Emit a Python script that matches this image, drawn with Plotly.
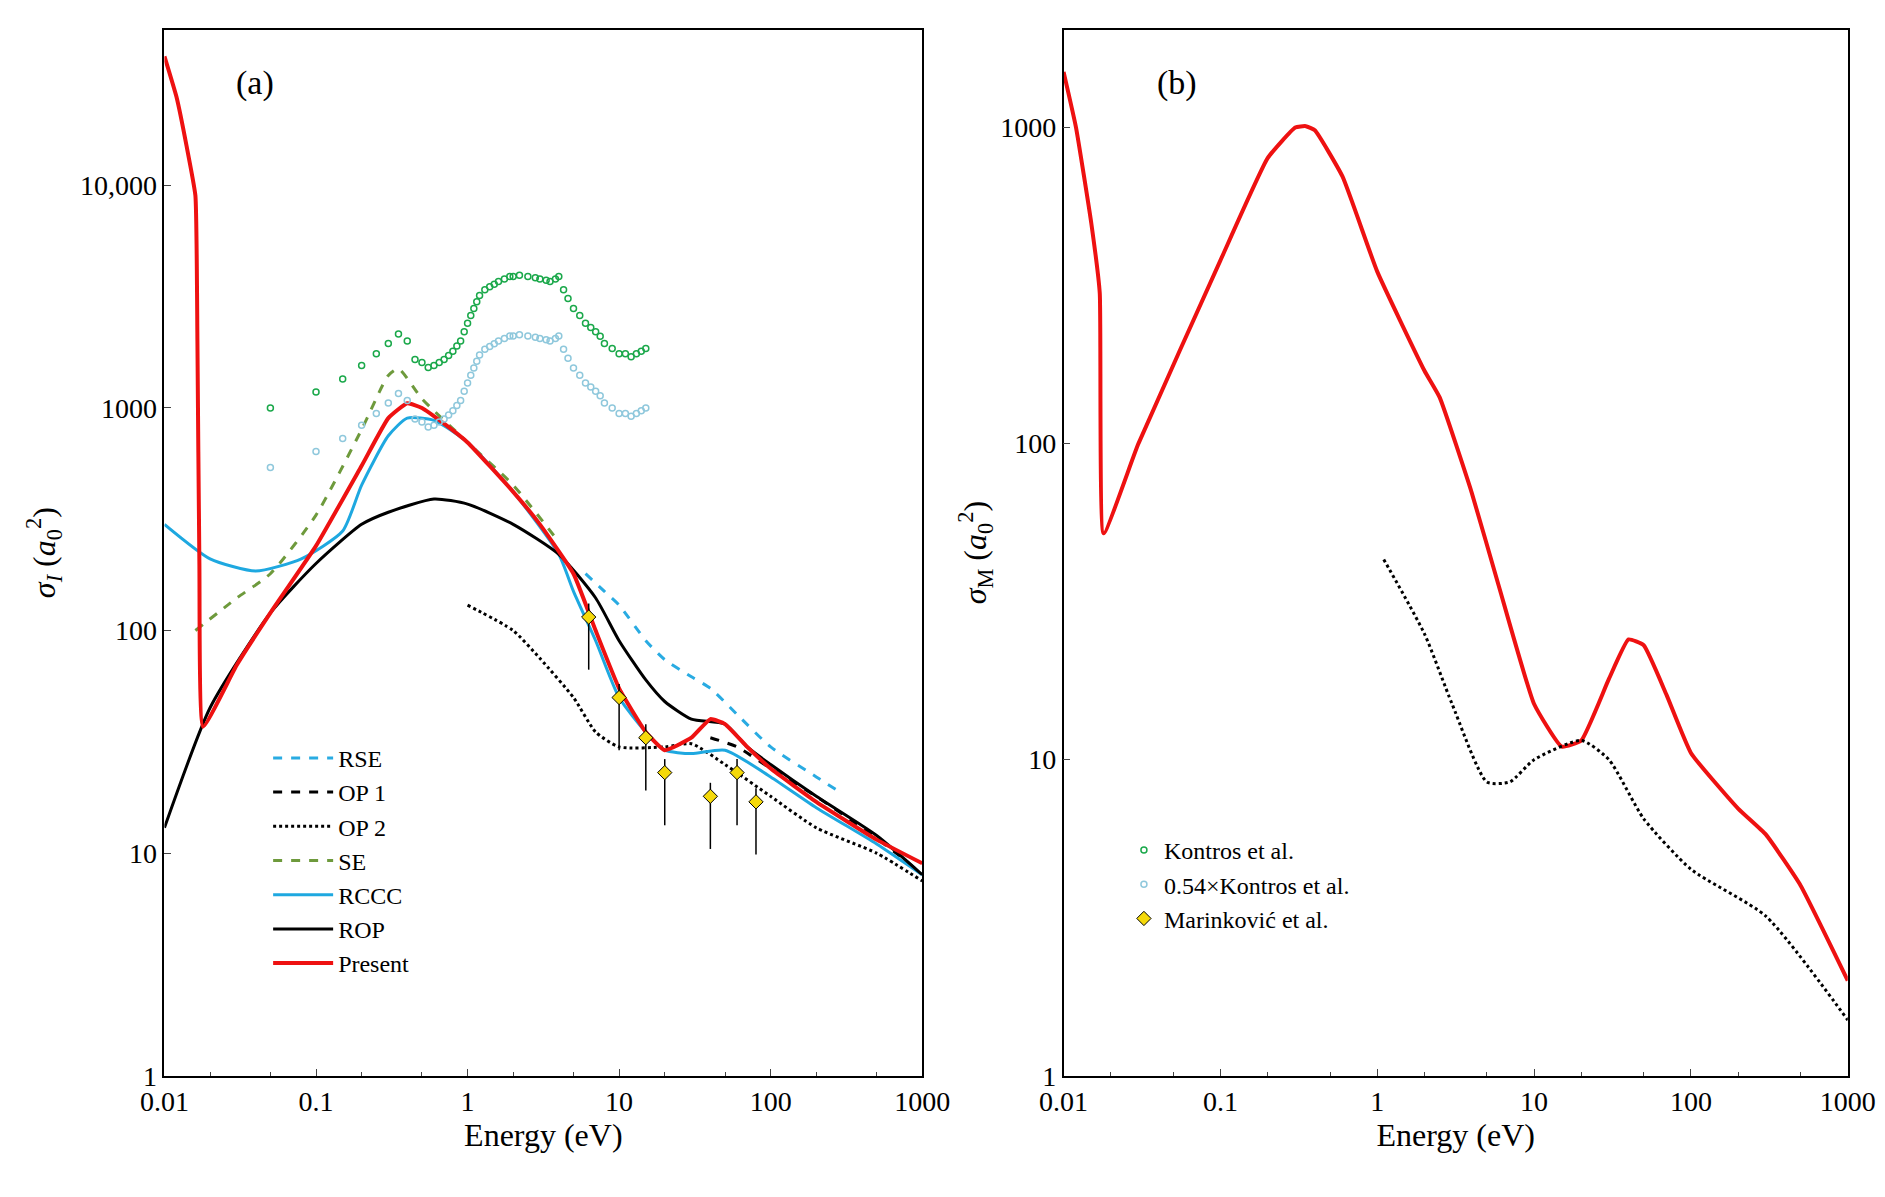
import plotly.graph_objects as go

# ---- panel (a) data ----
pres_x = [0.01,0.012,0.014,0.016,0.0165,0.017,0.018,0.03,0.05,0.1,0.2,0.3,0.4,0.5,0.7,1,2,3,5,7,10,15,20,30,40,50,70,100,200,500,1000]
pres_y = [38000,25000,15000,9000,2000,200,37,70,120,240,550,900,1050,1000,850,700,420,300,180,100,55,35,29,33,40,38,30,24,17,11.5,9]
rse_x = [6,8,10,15,20,30,40,60,100,200,280]
rse_y = [180,150,130,90,74,62,55,42,30,22,19]
op1_x = [40,60,100,200,400,700,900]
op1_y = [33,30,24,18,13,9.8,8.5]
op2_x = [1,2,3,5,7,10,20,30,50,100,200,500,1000]
op2_y = [130,100,75,50,35,30,30,31,25,18,13,10,7.5]
se_x = [0.016,0.03,0.05,0.1,0.2,0.3,0.35,0.5,1,2,4]
se_y = [100,140,180,330,800,1400,1500,1100,700,450,250]
rccc_x = [0.01,0.02,0.04,0.08,0.15,0.2,0.3,0.4,0.6,1,2,4,5,7,10,15,20,30,50,100,200,500,1000]
rccc_y = [300,210,185,210,280,450,750,900,880,700,420,220,150,90,50,35,29,28,29,22,16,11,8]
rop_x = [0.01,0.02,0.05,0.1,0.2,0.3,0.6,1,2,4,7,10,15,20,30,50,70,100,200,500,1000]
rop_y = [13,45,120,200,300,340,390,370,300,220,140,90,60,48,40,38,30,25,18,12,8]
kon_x = [0.05,0.1,0.15,0.2,0.25,0.3,0.35,0.4,0.45,0.5,0.55,0.6,0.65,0.7,0.75,0.8,0.85,0.9,0.95,1,1.05,1.1,1.15,1.2,1.3,1.4,1.5,1.6,1.75,1.9,2,2.2,2.5,2.8,3,3.3,3.5,3.8,4,4.3,4.6,5,5.5,6,6.5,7,7.5,8,9,10,11,12,13,14,15]
kon_y = [1000,1180,1350,1550,1750,1950,2150,2000,1650,1600,1520,1550,1600,1650,1720,1800,1900,2000,2200,2400,2600,2800,3000,3200,3400,3500,3600,3700,3800,3900,3900,3950,3900,3850,3800,3750,3700,3800,3900,3400,3100,2800,2600,2400,2300,2200,2100,1950,1850,1750,1750,1700,1750,1800,1850]
kon_scaled = [0.54 * v for v in kon_y]
mar_x = [6.3,10,15,20,40,60,80]
mar_y = [115,50,33,23,18,23,17]
mar_plus = [0.15*v for v in mar_y]
mar_minus = [0.42*v for v in mar_y]

# ---- panel (b) data ----
bp_x = [0.01,0.012,0.015,0.017,0.018,0.03,0.1,0.2,0.3,0.35,0.4,0.6,1,2,2.5,4,6,10,15,20,30,40,50,70,100,200,300,500,1000]
bp_y = [1500,1000,500,300,52,100,380,800,1000,1010,980,700,350,170,140,70,35,15,11,11.5,18,24,23,16,10.5,7,5.8,4,2]
bd_x = [1.1,2,3,5,7,10,20,30,50,100,300,1000]
bd_y = [43,25,15,8.5,8.5,10,11.5,10,6.5,4.5,3.2,1.5]

F = "Liberation Serif"
fig = go.Figure()
def line(x, y, name, color, dash="solid", w=3, xa="x", ya="y", leg="legend", show=True, sm=0.6):
    fig.add_trace(go.Scatter(x=x, y=y, mode="lines", name=name, xaxis=xa, yaxis=ya,
                             line=dict(color=color, dash=dash, width=w, shape="spline", smoothing=sm),
                             legend=leg, showlegend=show))

line(rse_x, rse_y, "RSE", "#29abe2", "dash")
line(op1_x, op1_y, "OP 1", "black", "dash")
line(op2_x, op2_y, "OP 2", "black", "dot")
line(se_x, se_y, "SE", "#6e9a3c", "dash")
line(rccc_x, rccc_y, "RCCC", "#1ea8e0")
line(rop_x, rop_y, "ROP", "black")
line(pres_x, pres_y, "Present", "#ee1111", w=4, sm=0.4)
fig.add_trace(go.Scatter(x=kon_x, y=kon_y, mode="markers", name="Kontros et al.", legend="legend2",
                         marker=dict(symbol="circle-open", color="#1aa84a", size=6, line=dict(width=1.5))))
fig.add_trace(go.Scatter(x=kon_x, y=kon_scaled, mode="markers", name="0.54×Kontros et al.", legend="legend2",
                         marker=dict(symbol="circle-open", color="#8fc8dc", size=6, line=dict(width=1.5))))
fig.add_trace(go.Scatter(x=mar_x, y=mar_y, mode="markers", name="Marinković et al.", legend="legend2",
                         marker=dict(symbol="diamond", color="#f5d90a", size=11, line=dict(color="black", width=1)),
                         error_y=dict(type="data", symmetric=False, array=mar_plus, arrayminus=mar_minus,
                                      color="black", thickness=1.5, width=0)))
line(bp_x, bp_y, "", "#ee1111", w=4, xa="x2", ya="y2", show=False, sm=0.4)
line(bd_x, bd_y, "", "black", "dot", xa="x2", ya="y2", show=False)

xt = [0.01,0.1,1,10,100,1000]; xl = ["0.01","0.1","1","10","100","1000"]
ax = dict(type="log", showline=True, linecolor="black", linewidth=1.5, mirror=True, ticks="inside",
          ticklen=7, showgrid=False, zeroline=False, tickfont=dict(size=28, family=F), automargin=False)
xminor = dict(minor=dict(ticks="inside", ticklen=4, showgrid=False))
fig.update_layout(
    width=1885, height=1197, plot_bgcolor="white", paper_bgcolor="white",
    font=dict(family=F, color="black"),
    margin=dict(l=0, r=0, t=0, b=0),
    xaxis=dict(ax, **xminor, domain=[0.083, 0.485], range=[-2, 3], tickvals=xt, ticktext=xl,
               title=dict(text="Energy (eV)", font=dict(size=32, family=F), standoff=8)),
    yaxis=dict(ax, domain=[0.108, 0.982], range=[0, 4.7], tickvals=[1,10,100,1000,10000],
               ticktext=["1","10","100","1000","10,000"],
               title=dict(text="<i>σ<sub>I</sub></i> (<i>a</i><sub>0</sub><sup>2</sup>)", font=dict(size=32, family=F))),
    xaxis2=dict(ax, **xminor, domain=[0.56, 0.976], range=[-2, 3], tickvals=xt, ticktext=xl, anchor="y2",
                title=dict(text="Energy (eV)", font=dict(size=32, family=F), standoff=8)),
    yaxis2=dict(ax, domain=[0.108, 0.982], range=[0, 3.31], anchor="x2", tickvals=[1,10,100,1000],
                ticktext=["1","10","100","1000"],
                title=dict(text="<i>σ</i><sub>M</sub> (<i>a</i><sub>0</sub><sup>2</sup>)", font=dict(size=32, family=F), standoff=4)),
    legend=dict(x=0.138, y=0.392, xanchor="left", yanchor="top", bgcolor="rgba(0,0,0,0)",
                font=dict(size=24, family=F), tracegroupgap=0, itemwidth=60),
    legend2=dict(x=0.592, y=0.315, xanchor="left", yanchor="top", bgcolor="rgba(0,0,0,0)",
                 font=dict(size=24, family=F), tracegroupgap=34),
    annotations=[
        dict(text="(a)", x=0.12, y=0.955, xref="paper", yref="paper", showarrow=False, font=dict(size=34, family=F)),
        dict(text="(b)", x=0.62, y=0.955, xref="paper", yref="paper", showarrow=False, font=dict(size=34, family=F)),
    ],
)
fig.write_html("out.html")
